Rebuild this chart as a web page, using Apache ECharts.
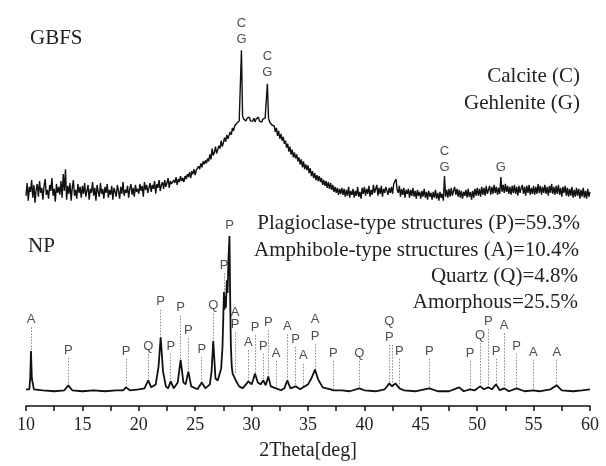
<!DOCTYPE html>
<html>
<head>
<meta charset="utf-8">
<script src="https://cdn.jsdelivr.net/npm/echarts@6/dist/echarts.min.js"></script>
<style>
html,body{margin:0;padding:0;background:#fff;}
#c{width:606px;height:466px;}
</style>
</head>
<body>
<div id="c"></div>
<script>
// 2Theta [deg] axis ticks
const xTicks = [10, 15, 20, 25, 30, 35, 40, 45, 50, 55, 60];

// GBFS pattern, scanned from 10 deg in 0.1 deg steps (intensity, a.u.)
const gbfsStart = 10;
const gbfsStep = 0.1;
const gbfsIntensity = [
214,227,209,223,218,230,212,225,207,220,
226,213,229,217,222,210,224,231,215,220,
211,225,219,232,214,221,208,226,217,223,
215,229,212,236,219,241,210,224,216,227,
209,222,230,214,220,211,226,217,223,212,
224,216,227,213,219,225,210,221,217,228,
214,222,209,225,218,213,227,216,221,211,
223,217,226,212,220,215,224,210,222,218,
213,225,219,211,223,216,228,214,220,217,
224,212,221,226,215,222,213,225,218,221,
216,226,219,224,213,228,220,225,217,222,
227,218,225,221,229,216,226,222,230,219,
225,228,221,230,223,227,232,222,229,226,
224,230,227,233,225,231,228,234,229,232,
228,234,231,236,233,238,232,239,236,241,
235,240,238,244,241,247,243,249,246,250,
247,252,249,256,251,262,255,258,264,257,
259,265,262,270,264,268,273,269,276,272,
274,279,276,283,280,285,283,288,286,290,
291,362,295,292,294,290,293,291,294,290,
292,290,293,289,292,291,294,290,292,289,
292,290,293,295,328,293,289,290,286,287,
285,279,283,275,280,272,277,270,274,267,
270,263,267,259,264,256,261,253,258,252,
256,249,253,246,251,243,249,241,246,240,
245,237,242,234,239,232,237,230,235,229,
234,228,232,225,230,224,229,222,228,221,
227,220,225,218,223,217,222,215,221,216,
222,215,221,213,220,214,223,212,219,215,
221,212,219,214,223,213,218,211,222,216,
223,214,221,216,224,213,220,215,225,217,
218,225,214,222,216,224,213,221,217,223,
224,215,222,217,223,216,226,228,231,220,
217,224,213,221,215,222,212,220,216,221,
212,220,214,222,213,219,211,220,214,218,
211,219,213,221,212,218,210,219,213,217,
210,218,212,220,211,217,209,218,212,216,
209,234,213,220,212,221,213,222,214,219,
223,215,221,213,220,212,219,211,218,214,
220,212,221,213,218,210,219,212,221,214,
222,214,221,213,223,215,222,214,224,216,
217,224,215,223,216,225,217,223,215,222,
216,233,218,225,217,226,218,224,216,223,
215,224,217,225,216,223,214,224,217,222,
225,216,223,214,224,217,225,215,222,216,
224,215,223,216,226,217,224,215,223,217,
225,216,223,214,224,217,226,216,223,215,
224,216,225,215,222,213,223,217,224,214,
222,213,221,214,223,212,220,213,222,214,
221,211,220,213,222,212,219,211,221,213,
218
];

// NP pattern: [2theta, intensity a.u.]
const np = [
[10.0,17],[10.3,17],[10.38,30],[10.44,56],[10.52,28],[10.7,17],[11.5,16],[12.5,15],[13.4,16],
[13.75,21],[14.1,16],[15.0,15],[16.0,16],[17.0,15],[18.0,16],[18.6,16],[18.87,19],[19.2,16],
[20.0,17],[20.5,18],[20.84,26],[21.1,19],[21.5,22],[21.75,40],[21.94,70],[22.15,35],[22.4,20],
[22.6,18],[22.83,25],[23.1,18],[23.45,24],[23.71,47],[23.95,24],[24.15,22],[24.39,35],[24.65,20],
[25.2,17],[25.58,24],[25.9,18],[26.3,22],[26.45,35],[26.6,66],[26.8,28],[27.0,26],[27.3,38],
[27.42,60],[27.5,95],[27.55,116],[27.6,98],[27.67,112],[27.72,100],[27.8,128],[27.87,115],
[27.95,150],[28.04,173],[28.1,110],[28.16,62],[28.24,40],[28.32,33],[28.45,34],[28.6,26],
[28.9,20],[29.2,18],[29.5,22],[29.71,25],[30.0,22],[30.15,27],[30.3,33],
[30.55,24],[30.8,22],[31.04,26],[31.25,21],[31.48,30],[31.7,20],[32.16,18],[32.6,16],[32.9,18],
[33.16,26],[33.45,18],[33.91,20],[34.3,17],[34.58,19],[35.0,22],[35.3,28],[35.62,37],[35.9,27],
[36.3,19],[37.0,17],[37.24,16],[38.0,16],[38.7,15],[39.55,18],[40.0,16],[41.0,15],[41.8,17],
[42.21,23],[42.45,20],[42.75,23],[43.09,18],[43.5,16],[44.5,15],[45.75,18],[46.5,15],[47.5,15],
[48.4,19],[48.8,15],[49.36,17],[49.8,16],[50.25,20],[50.6,17],[50.98,19],[51.3,17],[51.67,22],
[52.0,16],[52.38,18],[52.8,15],[53.5,18],[54.2,15],[54.97,16],[55.5,15],[56.5,17],[57.05,21],
[57.5,16],[58.5,15],[59.3,16],[60.0,17]
];

// phase letters: [2theta, letter, height a.u.]
const gbfsLetters = [
[29.1,'C',389],[29.1,'G',373],[31.4,'C',356],[31.4,'G',340],
[47.1,'C',259],[47.1,'G',243],[52.1,'G',243]
];
const npLetters = [
[10.44,'A',88],[13.75,'P',57],[18.87,'P',56],[20.84,'Q',61],[21.94,'P',106],[22.83,'P',61],
[23.71,'P',100],[24.39,'P',77],[25.58,'P',58],[26.6,'Q',102],[27.55,'P',143],[28.05,'P',184],
[28.53,'A',95],[28.53,'P',83],[29.71,'A',65],[30.3,'P',80],[31.04,'P',61],[31.48,'P',85],
[32.16,'A',54],[33.16,'A',81],[33.91,'P',68],[34.58,'A',51],[35.62,'A',88],[35.62,'P',71],
[37.24,'P',54],[39.55,'Q',54],[42.21,'Q',86],[42.21,'P',70],[43.09,'P',56],[45.75,'P',56],
[49.36,'P',54],[50.25,'Q',72],[50.98,'P',86],[51.67,'P',56],[52.38,'A',82],[53.5,'P',61],
[54.97,'A',55],[57.05,'A',55]
];
// dotted guides: [2theta, top, bottom]
const npGuides = [
[10.44,80,56],[13.75,49,21],[18.87,48,18],[20.84,53,26],[21.94,98,70],[22.83,53,25],
[23.71,92,47],[24.39,69,35],[25.58,50,24],[26.6,94,66],[27.55,135,116],[28.53,75,33],
[29.71,57,25],[30.3,72,33],[31.04,53,26],[31.48,77,30],[32.16,46,18],[33.16,73,26],
[33.91,60,20],[34.58,43,19],[35.62,63,37],[37.24,46,16],[39.55,46,18],[42.21,62,23],
[42.5,62,20],[43.09,48,18],[45.75,48,18],[49.36,46,17],[50.25,64,20],[50.98,78,19],
[51.67,48,22],[52.38,74,18],[53.5,53,18],[54.97,47,16],[57.05,47,21]
];

const gbfs = gbfsIntensity.map((v, i) => [Math.round((gbfsStart + i * gbfsStep) * 100) / 100, v]);

const serif = '"Liberation Serif","Times New Roman",serif';
const sans = '"Liberation Sans",Arial,sans-serif';
const F = '21px ' + serif;

const chart = echarts.init(document.getElementById('c'), null, {renderer: 'canvas'});
const letterData = gbfsLetters.concat(npLetters).map(d => ({value: [d[0], d[2]], name: d[1]}));
chart.setOption({
  animation: false,
  backgroundColor: '#fff',
  grid: {left: 26, right: 16, top: 13, bottom: 53},
  xAxis: {
    type: 'value', min: xTicks[0], max: xTicks[xTicks.length - 1], interval: 5,
    name: '2Theta[deg]', nameLocation: 'middle', nameGap: 35,
    nameTextStyle: {fontFamily: serif, fontSize: 20, color: '#222'},
    axisLine: {show: true, lineStyle: {color: '#111', width: 1.5}},
    axisTick: {show: true, inside: false, length: 5, lineStyle: {color: '#111', width: 1.5}},
    minorTick: {show: true, splitNumber: 2, length: 5, lineStyle: {color: '#111', width: 1.5}},
    axisLabel: {fontFamily: serif, fontSize: 18, color: '#222', margin: 10},
    splitLine: {show: false}
  },
  yAxis: {type: 'value', min: 0, max: 400, show: false, splitLine: {show: false}},
  graphic: [
    {type: 'text', left: 30, top: 28, style: {text: 'GBFS', font: F, fill: '#222'}},
    {type: 'text', left: 28, top: 236, style: {text: 'NP', font: F, fill: '#222'}},
    {type: 'text', right: 26, top: 66, style: {text: 'Calcite (C)', font: F, fill: '#222'}},
    {type: 'text', right: 26, top: 93, style: {text: 'Gehlenite (G)', font: F, fill: '#222'}},
    {type: 'text', right: 26, top: 213, style: {text: 'Plagioclase-type structures (P)=59.3%', font: F, fill: '#222'}},
    {type: 'text', right: 27, top: 240, style: {text: 'Amphibole-type structures (A)=10.4%', font: F, fill: '#222'}},
    {type: 'text', right: 28, top: 266, style: {text: 'Quartz (Q)=4.8%', font: F, fill: '#222'}},
    {type: 'text', right: 28, top: 292, style: {text: 'Amorphous=25.5%', font: F, fill: '#222'}}
  ],
  series: [
    {
      type: 'lines', coordinateSystem: 'cartesian2d', polyline: false, silent: true,
      lineStyle: {color: '#8a8a8a', width: 1, type: [1.5, 1.5], opacity: 1},
      data: npGuides.map(g => ({coords: [[g[0], g[1]], [g[0], g[2]]]})),
      z: 1
    },
    {
      type: 'line', data: gbfs, showSymbol: false, symbol: 'none',
      lineStyle: {color: '#111', width: 1.4}, z: 3
    },
    {
      type: 'line', data: np, showSymbol: false, symbol: 'none',
      lineStyle: {color: '#111', width: 1.8}, z: 3
    },
    {
      type: 'scatter', data: letterData, symbol: 'circle', symbolSize: 1,
      itemStyle: {color: 'rgba(0,0,0,0)'},
      label: {show: true, position: 'inside', formatter: p => p.name,
        fontFamily: sans, fontSize: 13, color: '#222'},
      z: 4
    }
  ]
});
</script>
</body>
</html>
